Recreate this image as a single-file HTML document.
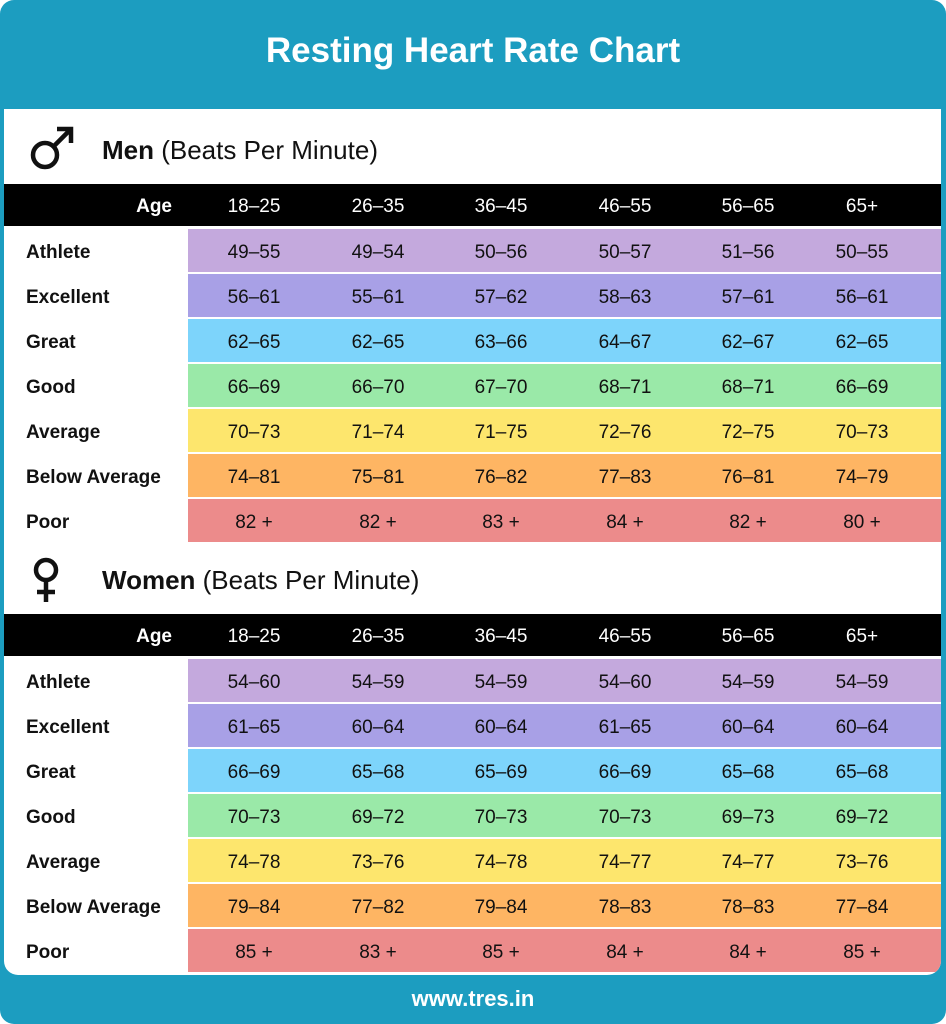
<!DOCTYPE html><html><head><style>
*{margin:0;padding:0;box-sizing:border-box}
body{width:946px;height:1024px;background:#fff;font-family:"Liberation Sans",sans-serif;position:relative;overflow:hidden}
.bg{position:absolute;left:0;top:0;width:946px;height:1024px;background:#1c9dc0;border-radius:14px}
.card{position:absolute;left:4px;top:109px;width:937px;height:866px;background:#fff;border-radius:0 0 14px 14px;overflow:hidden}
.t{position:absolute;color:#fff;font-weight:bold;text-align:center;width:946px;left:0}
.a{position:absolute;left:0;width:937px}
.bar{background:#000;height:42px;color:#fff;font-weight:bold;font-size:19px}
.c{position:absolute;text-align:center;width:120px;line-height:42px;font-size:19px;padding-top:2px}
.lab{position:absolute;left:22px;font-weight:bold;font-size:19px;color:#111;line-height:43px;padding-top:2px}
.row{position:absolute;left:184px;width:753px;height:43px}
.h{position:absolute;left:98px;font-size:26px;color:#111}
</style></head><body>
<div class="bg"></div>
<div class="t" style="top:31px;font-size:35px">Resting Heart Rate Chart</div>
<div class="t" style="top:986px;font-size:22px">www.tres.in</div>
<div class="card" id="card"></div>
<script>
const cols=[250,374,497,621,744,858];
const colors=["#c4a9dd","#a8a0e6","#7dd4fb","#9ae9a8","#fde66d","#feb563","#ec8b8b"];
const labels=["Athlete","Excellent","Great","Good","Average","Below Average","Poor"];
const ages=["18–25","26–35","36–45","46–55","56–65","65+"];
const men=[["49–55","49–54","50–56","50–57","51–56","50–55"],["56–61","55–61","57–62","58–63","57–61","56–61"],["62–65","62–65","63–66","64–67","62–67","62–65"],["66–69","66–70","67–70","68–71","68–71","66–69"],["70–73","71–74","71–75","72–76","72–75","70–73"],["74–81","75–81","76–82","77–83","76–81","74–79"],["82 +","82 +","83 +","84 +","82 +","80 +"]];
const wom=[["54–60","54–59","54–59","54–60","54–59","54–59"],["61–65","60–64","60–64","61–65","60–64","60–64"],["66–69","65–68","65–69","66–69","65–68","65–68"],["70–73","69–72","70–73","70–73","69–73","69–72"],["74–78","73–76","74–78","74–77","74–77","73–76"],["79–84","77–82","79–84","78–83","78–83","77–84"],["85 +","83 +","85 +","84 +","84 +","85 +"]];
let h="";
function sec(top,title,sym,data){
 h+=`<div class="h" style="top:${top}px;line-height:40px"><b>${title}</b> (Beats Per Minute)</div>`;
 h+=sym;
 let b=top+54;
 h+=`<div class="a bar" style="top:${b}px"><div class="c" style="left:88px;width:80px;text-align:right">Age</div>`;
 ages.forEach((a,i)=>h+=`<div class="c" style="left:${cols[i]-60}px;font-weight:normal">${a}</div>`);
 h+=`</div>`;
 for(let r=0;r<7;r++){
  let y=b+45+r*45;
  h+=`<div class="lab" style="top:${y}px">${labels[r]}</div>`;
  h+=`<div class="row" style="top:${y}px;background:${colors[r]}"></div>`;
  data[r].forEach((v,i)=>h+=`<div class="c" style="top:${y}px;left:${cols[i]-60}px;line-height:43px;color:#111">${v}</div>`);
 }
}
const male=`<svg style="position:absolute;left:24px;top:17px" width="48" height="46" viewBox="0 0 48 46"><circle cx="17" cy="29" r="12" fill="none" stroke="#111" stroke-width="4.5"/><path d="M26 20 L42 4 M29 3 H43 V17" fill="none" stroke="#111" stroke-width="4.5"/></svg>`;
const fem=`<svg style="position:absolute;left:24px;top:447px" width="40" height="50" viewBox="0 0 40 50"><circle cx="18" cy="14" r="10" fill="none" stroke="#111" stroke-width="4.5"/><path d="M18 24 V46 M9 36 H27" fill="none" stroke="#111" stroke-width="4.5"/></svg>`;
sec(21,"Men",male,men);
sec(451,"Women",fem,wom);
document.getElementById("card").innerHTML=h;
</script>
</body></html>
